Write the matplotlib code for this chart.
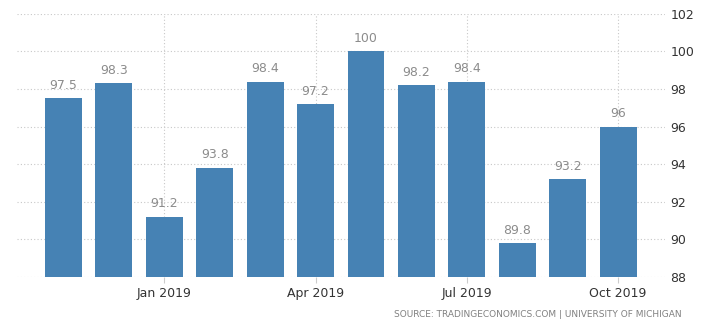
import matplotlib.pyplot as plt

months = ['Nov 2018', 'Dec 2018', 'Jan 2019', 'Feb 2019', 'Mar 2019', 'Apr 2019',
          'May 2019', 'Jun 2019', 'Jul 2019', 'Aug 2019', 'Sep 2019', 'Oct 2019']
values = [97.5, 98.3, 91.2, 93.8, 98.4, 97.2, 100, 98.2, 98.4, 89.8, 93.2, 96]
tick_labels = ['Jan 2019', 'Apr 2019', 'Jul 2019', 'Oct 2019']

fig = plt.figure(figsize=(7.06, 3.31), dpi=100)
ax = fig.add_axes([0.024, 0.163, 0.918, 0.795])

X = list(range(len(months)))
ax.bar(X, [v - 88 for v in values], bottom=88, width=0.73, color='#4682b4', zorder=3)

for x, v in zip(X, values):
	ax.text(x, v + 0.35, ('%g' % v), ha='center', va='bottom', fontsize=9, color='#8c8c8c')

ax.set_ylim(88, 102)
ax.set_xlim(-0.92, 11.93)
ax.set_yticks(range(88, 103, 2))
ax.yaxis.tick_right()
ax.tick_params(axis='y', length=0, labelsize=9, colors='#333333', pad=4)

tick_pos = [months.index(t) for t in tick_labels]
ax.set_xticks(tick_pos)
ax.set_xticklabels(tick_labels)
ax.tick_params(axis='x', length=4, color='#cccccc', labelsize=9, labelcolor='#333333', pad=3)

ax.grid(True, linestyle=(0, (1, 2)), color='#c8c8c8', linewidth=0.8, zorder=0)
for s in ax.spines.values():
	s.set_visible(False)

fig.text(0.966, 0.035, 'SOURCE: TRADINGECONOMICS.COM | UNIVERSITY OF MICHIGAN',
	ha='right', va='bottom', fontsize=6.5, color='#808080')

fig.savefig('out.png', dpi=100)
